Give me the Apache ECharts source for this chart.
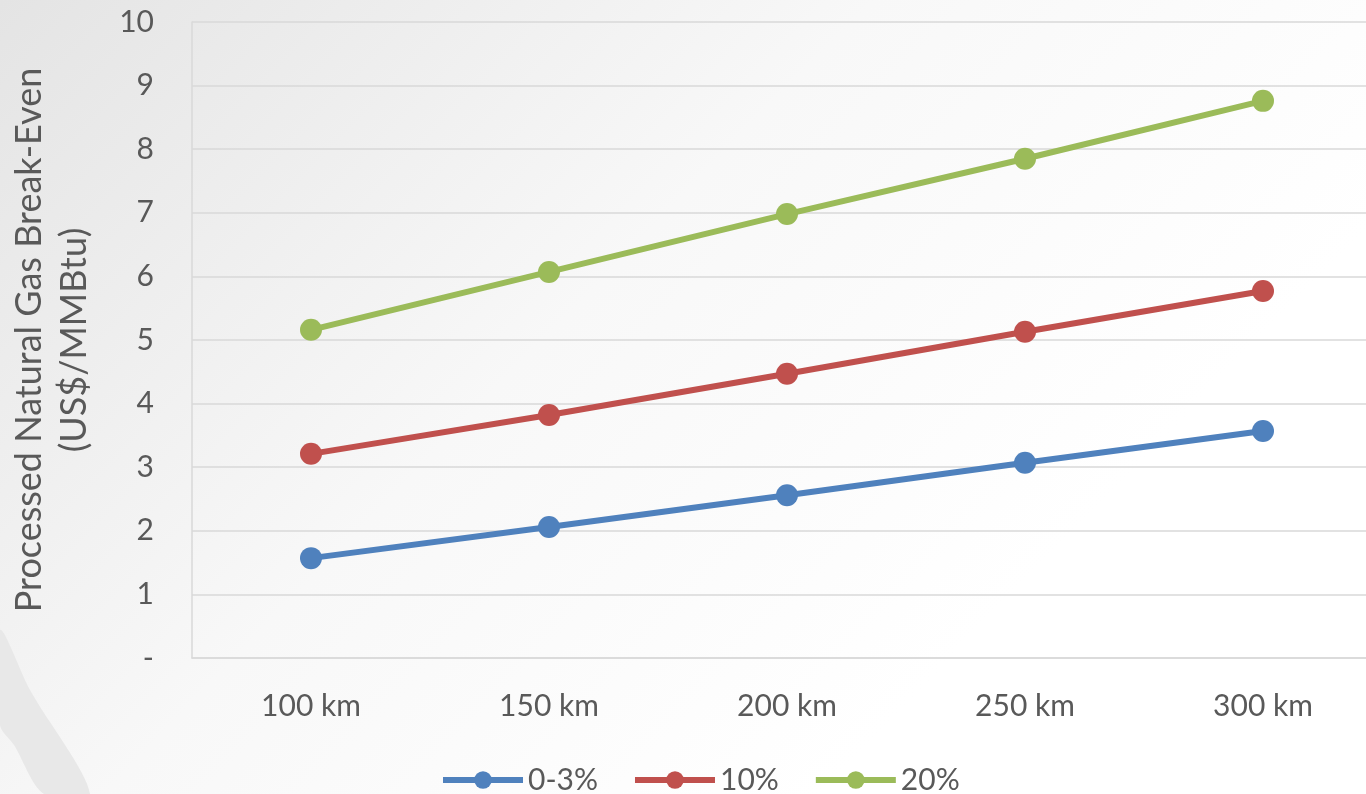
<!DOCTYPE html>
<html>
<head>
<meta charset="utf-8">
<script src="https://cdn.jsdelivr.net/npm/echarts@6/dist/echarts.min.js"></script>
<style>
  html, body { margin: 0; padding: 0; }
  #chart { width: 1366px; height: 794px; }
</style>
</head>
<body>
<div id="chart"></div>
<script>
var categories = ['100 km', '150 km', '200 km', '250 km', '300 km']
var seriesNames = ['0-3%', '10%', '20%']
var low = [1.57, 2.06, 2.56, 3.07, 3.57]
var mid = [3.21, 3.82, 4.47, 5.13, 5.77]
var high = [5.16, 6.07, 6.98, 7.85, 8.76]
var yTickLabels = ['-', '1', '2', '3', '4', '5', '6', '7', '8', '9', '10']

var colors = ['#4f81bd', '#c0504d', '#9bbb59']
var textColor = '#595959'
var font = 'Lato, "Open Sans", sans-serif'

var chart = echarts.init(document.getElementById('chart'))

function lineSeries (name, data, color) {
  return {
    name: name,
    type: 'line',
    data: data,
    symbol: 'circle',
    symbolSize: 22,
    color: color,
    lineStyle: { width: 6, color: color },
    itemStyle: { color: color }
  }
}

chart.setOption({
  backgroundColor: {
    type: 'linear', x: 0, y: 0, x2: 0.6, y2: 1,
    colorStops: [
      { offset: 0, color: '#e4e4e4' },
      { offset: 0.55, color: '#f8f8f8' },
      { offset: 1, color: '#ffffff' }
    ]
  },
  textStyle: { fontFamily: font },
  graphic: [
    {
      // decorative swoosh in the lower-left corner
      type: 'polygon',
      z: -1,
      shape: { points: [[0, 630], [30, 690], [90, 794], [44, 794], [14, 745], [0, 725]], smooth: 0.3 },
      style: { fill: '#e8e8e8' }
    }
  ],
  grid: { left: 192, right: -16, top: 22, bottom: 136, containLabel: false, outerBoundsMode: 'none' },
  legend: {
    bottom: -6,
    left: 435,
    itemWidth: 80,
    itemHeight: 22,
    itemGap: 34,
    lineStyle: { width: 6 },
    textStyle: { fontSize: 30, color: textColor, fontFamily: font },
    data: seriesNames
  },
  xAxis: {
    type: 'category',
    data: categories,
    boundaryGap: true,
    axisLine: { lineStyle: { color: '#d9d9d9', width: 1.5 } },
    axisTick: { show: false },
    axisLabel: { fontSize: 30, color: textColor, margin: 33 }
  },
  yAxis: {
    type: 'value',
    min: 0,
    max: 10,
    interval: 1,
    name: 'Processed Natural Gas Break-Even\n(US$/MMBtu)',
    nameLocation: 'middle',
    nameRotate: 90,
    nameGap: 95,
    nameTextStyle: { fontSize: 36, color: textColor, lineHeight: 45 },
    axisLine: { show: true, lineStyle: { color: '#d9d9d9', width: 1.5 } },
    axisTick: { show: false },
    splitLine: { lineStyle: { color: '#d9d9d9', width: 1.5 } },
    axisLabel: {
      fontSize: 30,
      color: textColor,
      margin: 38,
      formatter: function (v) { return yTickLabels[Math.round(v)] }
    }
  },
  series: [
    lineSeries(seriesNames[0], low, colors[0]),
    lineSeries(seriesNames[1], mid, colors[1]),
    lineSeries(seriesNames[2], high, colors[2])
  ]
})
</script>
</body>
</html>
